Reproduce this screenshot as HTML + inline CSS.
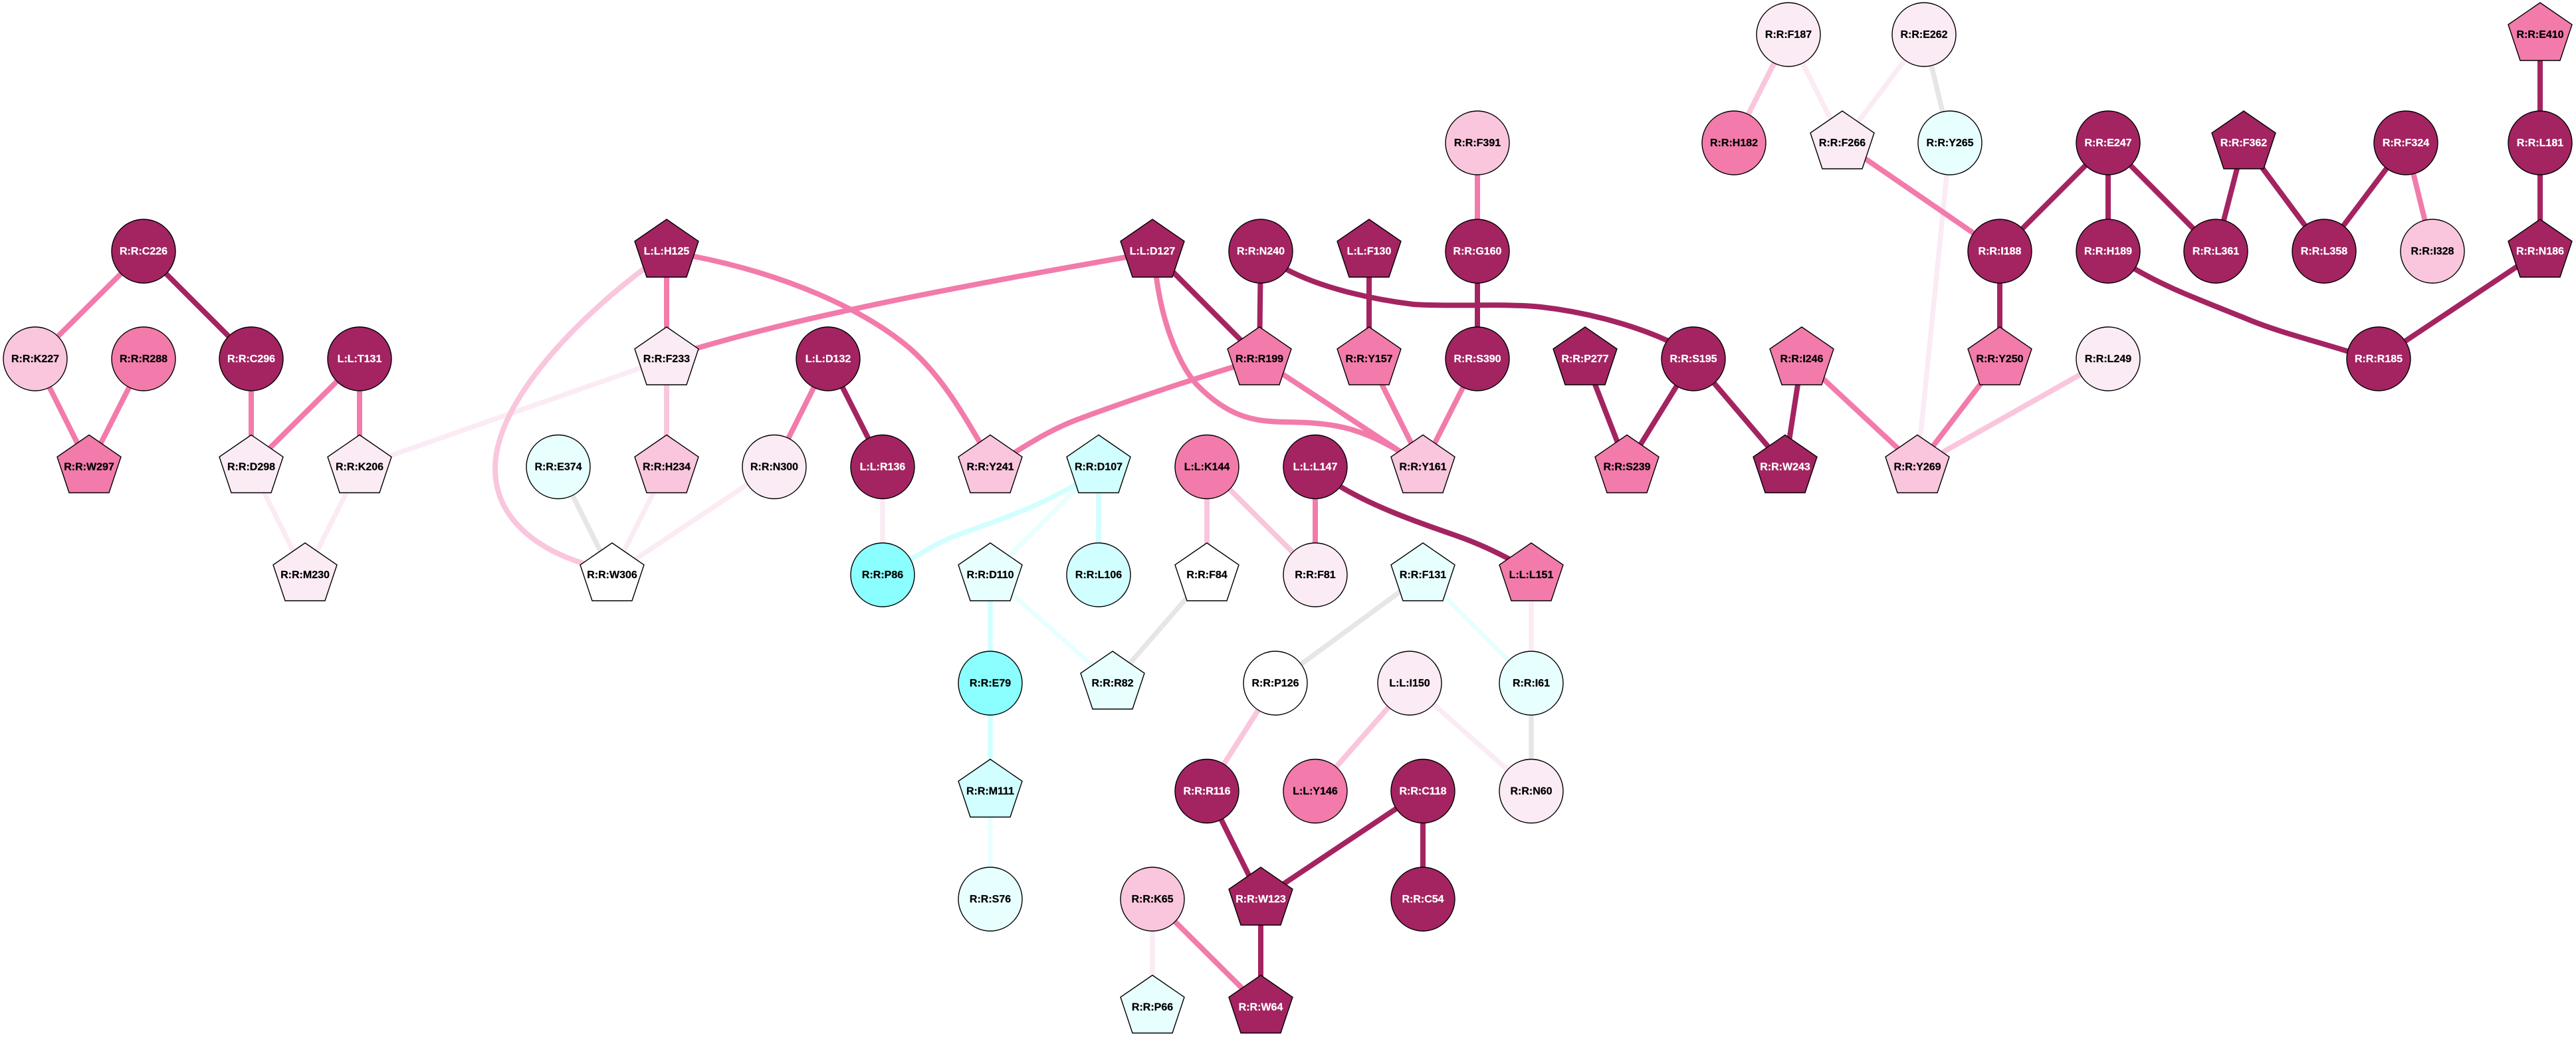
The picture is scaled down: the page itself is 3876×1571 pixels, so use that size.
<!DOCTYPE html>
<html><head><meta charset="utf-8"><style>
html,body{margin:0;padding:0;background:#fff}
svg{display:block}
.e path{fill:none;stroke-width:8}
.ed path{stroke:#a32461}
.ep path{stroke:#f27bab}
.el path{stroke:#f9c6dd}
.ef path{stroke:#fbebf4;stroke-width:7.5}
.eg path{stroke:#e6e6e6;stroke-width:7.5}
.ec path{stroke:#d1ffff;stroke-width:7.5}
.ex path{stroke:#e8ffff;stroke-width:7}
circle,polygon{stroke:#000;stroke-width:1.4}
text{font:bold 16px "Liberation Sans",Arial,sans-serif;text-anchor:middle;fill:#000;stroke:#000;stroke-width:.25}
.d circle,.d polygon{fill:#a32461}.d text{fill:#fff;stroke:#fff}
.p circle,.p polygon{fill:#f27bab}
.l circle,.l polygon{fill:#f9c6dd}
.f circle,.f polygon{fill:#fbebf4}
.x circle,.x polygon{fill:#e8ffff}
.c circle,.c polygon{fill:#d1ffff}
.a circle,.a polygon{fill:#8bffff}
.w circle,.w polygon{fill:#fff}
</style></head><body>
<svg xmlns="http://www.w3.org/2000/svg" width="3876" height="1571" viewBox="0 0 3876 1571">
<rect width="3876" height="1571" fill="#fff"/>
<g class="e ef">
<path d="M378 702L459 865"/><path d="M541 702L459 865"/><path d="M541 702L1003 540"/><path d="M1003 702L921 865"/><path d="M1165 702L921 865"/><path d="M1328 702L1328 865"/><path d="M2304 865L2304 1028"/><path d="M2121 1028L2304 1190"/><path d="M1734 1353L1734 1515"/><path d="M2934 215L2885 702"/><path d="M2691 52L2772 215"/><path d="M2895 52L2772 215"/>
</g>
<g class="e eg">
<path d="M840 702L921 865"/><path d="M1816 865L1674 1028"/><path d="M2141 865L1919 1028"/><path d="M2304 1028L2304 1190"/><path d="M2895 52L2934 215"/>
</g>
<g class="e ex">
<path d="M1653 702L1490 865"/><path d="M1490 865L1674 1028"/><path d="M1490 1190L1490 1353"/><path d="M2141 865L2304 1028"/>
</g>
<g class="e ec">
<path d="M1630 722C1570 760 1510 780 1438 806C1410 817 1390 830 1360 848"/><path d="M1653 702L1653 865"/><path d="M1490 865L1490 1028"/><path d="M1490 1028L1490 1190"/>
</g>
<g class="e el">
<path d="M975 400C880 470 745 600 745 705C745 775 800 825 885 850"/><path d="M1003 540L1003 702"/><path d="M1816 702L1816 865"/><path d="M1816 702L1979 865"/><path d="M1919 1028L1816 1190"/><path d="M2121 1028L1979 1190"/><path d="M3172 540L2885 702"/><path d="M2691 52L2609 215"/>
</g>
<g class="e ep">
<path d="M216 378L53 540"/><path d="M53 540L134 702"/><path d="M216 540L134 702"/><path d="M378 540L378 702"/><path d="M541 540L378 702"/><path d="M541 540L541 702"/><path d="M1003 378L1003 540"/>
<path d="M1040 385C1180 412 1300 465 1370 525C1420 570 1450 625 1478 672"/>
<path d="M1700 386C1550 412 1400 440 1285 465C1200 483 1120 503 1045 525"/>
<path d="M1246 540L1165 702"/><path d="M1979 702L1979 865"/>
<path d="M1739 410C1750 500 1780 555 1800 578C1850 630 1890 634 1933 635C2000 636 2040 640 2107 680"/>
<path d="M1870 548C1790 572 1700 602 1630 628C1590 642 1560 660 1520 685"/>
<path d="M1895 540L2141 702"/><path d="M2060 540L2141 702"/><path d="M2223 540L2141 702"/><path d="M2223 215L2223 378"/><path d="M1734 1353L1897 1515"/><path d="M2711 540L2885 702"/><path d="M3009 540L2885 702"/><path d="M2772 215L3009 378"/><path d="M3620 215L3660 378"/>
</g>
<g class="e ed">
<path d="M216 378L378 540"/><path d="M1246 540L1328 702"/><path d="M1734 378L1895 540"/><path d="M1897 378L1895 540"/><path d="M2060 378L2060 540"/>
<path d="M1935 405C1985 432 2060 450 2127 458C2190 462 2260 456 2319 462C2390 470 2460 490 2510 513L2548 540"/>
<path d="M2010 728C2060 760 2130 785 2191 806C2225 818 2250 830 2280 846"/>
<path d="M2223 378L2223 540"/><path d="M2385 540L2448 702"/><path d="M2548 540L2448 702"/><path d="M2548 540L2686 702"/><path d="M2711 540L2686 702"/>
<path d="M1816 1190L1897 1353"/><path d="M2141 1190L1897 1353"/><path d="M2141 1190L2141 1353"/><path d="M1897 1353L1897 1515"/>
<path d="M3172 215L3009 378"/><path d="M3172 215L3172 378"/><path d="M3172 215L3334 378"/><path d="M3376 215L3334 378"/><path d="M3376 215L3497 378"/><path d="M3620 215L3497 378"/><path d="M3009 378L3009 540"/>
<path d="M3200 397C3250 430 3320 455 3386 482C3430 500 3490 515 3540 531"/>
<path d="M3822 378L3579 540"/><path d="M3822 215L3822 378"/><path d="M3822 52L3822 215"/>
</g>
<g class="d" transform="translate(216 378)"><circle r="48"/><text y="5">R:R:C226</text></g>
<g class="l" transform="translate(53 540)"><circle r="48"/><text y="5">R:R:K227</text></g>
<g class="p" transform="translate(216 540)"><circle r="48"/><text y="5">R:R:R288</text></g>
<g class="d" transform="translate(378 540)"><circle r="48"/><text y="5">R:R:C296</text></g>
<g class="d" transform="translate(541 540)"><circle r="48"/><text y="5">L:L:T131</text></g>
<g class="p" transform="translate(134 702.500)"><polygon points="0,-48 48,-15 30,39 -30,39 -48,-15"/><text y="5">R:R:W297</text></g>
<g class="f" transform="translate(378 702.500)"><polygon points="0,-48 48,-15 30,39 -30,39 -48,-15"/><text y="5">R:R:D298</text></g>
<g class="f" transform="translate(541 702.500)"><polygon points="0,-48 48,-15 30,39 -30,39 -48,-15"/><text y="5">R:R:K206</text></g>
<g class="f" transform="translate(459 865)"><polygon points="0,-48 48,-15 30,39 -30,39 -48,-15"/><text y="5">R:R:M230</text></g>
<g class="w" transform="translate(921 865)"><polygon points="0,-48 48,-15 30,39 -30,39 -48,-15"/><text y="5">R:R:W306</text></g>
<g class="x" transform="translate(840 702.500)"><circle r="48"/><text y="5">R:R:E374</text></g>
<g class="d" transform="translate(1003 378)"><polygon points="0,-48 48,-15 30,39 -30,39 -48,-15"/><text y="5">L:L:H125</text></g>
<g class="f" transform="translate(1003 540)"><polygon points="0,-48 48,-15 30,39 -30,39 -48,-15"/><text y="5">R:R:F233</text></g>
<g class="l" transform="translate(1003 702.500)"><polygon points="0,-48 48,-15 30,39 -30,39 -48,-15"/><text y="5">R:R:H234</text></g>
<g class="d" transform="translate(1246 540)"><circle r="48"/><text y="5">L:L:D132</text></g>
<g class="f" transform="translate(1165 702.500)"><circle r="48"/><text y="5">R:R:N300</text></g>
<g class="d" transform="translate(1328 702.500)"><circle r="48"/><text y="5">L:L:R136</text></g>
<g class="l" transform="translate(1490 702.500)"><polygon points="0,-48 48,-15 30,39 -30,39 -48,-15"/><text y="5">R:R:Y241</text></g>
<g class="c" transform="translate(1653 702.500)"><polygon points="0,-48 48,-15 30,39 -30,39 -48,-15"/><text y="5">R:R:D107</text></g>
<g class="a" transform="translate(1328 865)"><circle r="48"/><text y="5">R:R:P86</text></g>
<g class="x" transform="translate(1490 865)"><polygon points="0,-48 48,-15 30,39 -30,39 -48,-15"/><text y="5">R:R:D110</text></g>
<g class="c" transform="translate(1653 865)"><circle r="48"/><text y="5">R:R:L106</text></g>
<g class="a" transform="translate(1490 1028)"><circle r="48"/><text y="5">R:R:E79</text></g>
<g class="x" transform="translate(1674 1028)"><polygon points="0,-48 48,-15 30,39 -30,39 -48,-15"/><text y="5">R:R:R82</text></g>
<g class="c" transform="translate(1490 1190.500)"><polygon points="0,-48 48,-15 30,39 -30,39 -48,-15"/><text y="5">R:R:M111</text></g>
<g class="x" transform="translate(1490 1353)"><circle r="48"/><text y="5">R:R:S76</text></g>
<g class="d" transform="translate(1734 378)"><polygon points="0,-48 48,-15 30,39 -30,39 -48,-15"/><text y="5">L:L:D127</text></g>
<g class="d" transform="translate(1897 378)"><circle r="48"/><text y="5">R:R:N240</text></g>
<g class="d" transform="translate(2060 378)"><polygon points="0,-48 48,-15 30,39 -30,39 -48,-15"/><text y="5">L:L:F130</text></g>
<g class="l" transform="translate(2223 215)"><circle r="48"/><text y="5">R:R:F391</text></g>
<g class="d" transform="translate(2223 378)"><circle r="48"/><text y="5">R:R:G160</text></g>
<g class="p" transform="translate(1895 540)"><polygon points="0,-48 48,-15 30,39 -30,39 -48,-15"/><text y="5">R:R:R199</text></g>
<g class="p" transform="translate(2060 540)"><polygon points="0,-48 48,-15 30,39 -30,39 -48,-15"/><text y="5">R:R:Y157</text></g>
<g class="d" transform="translate(2223 540)"><circle r="48"/><text y="5">R:R:S390</text></g>
<g class="d" transform="translate(2385 540)"><polygon points="0,-48 48,-15 30,39 -30,39 -48,-15"/><text y="5">R:R:P277</text></g>
<g class="d" transform="translate(2548 540)"><circle r="48"/><text y="5">R:R:S195</text></g>
<g class="p" transform="translate(2711 540)"><polygon points="0,-48 48,-15 30,39 -30,39 -48,-15"/><text y="5">R:R:I246</text></g>
<g class="p" transform="translate(1816 702.500)"><circle r="48"/><text y="5">L:L:K144</text></g>
<g class="d" transform="translate(1979 702.500)"><circle r="48"/><text y="5">L:L:L147</text></g>
<g class="l" transform="translate(2141 702.500)"><polygon points="0,-48 48,-15 30,39 -30,39 -48,-15"/><text y="5">R:R:Y161</text></g>
<g class="p" transform="translate(2448 702.500)"><polygon points="0,-48 48,-15 30,39 -30,39 -48,-15"/><text y="5">R:R:S239</text></g>
<g class="d" transform="translate(2686 702.500)"><polygon points="0,-48 48,-15 30,39 -30,39 -48,-15"/><text y="5">R:R:W243</text></g>
<g class="l" transform="translate(2885 702.500)"><polygon points="0,-48 48,-15 30,39 -30,39 -48,-15"/><text y="5">R:R:Y269</text></g>
<g class="w" transform="translate(1816 865)"><polygon points="0,-48 48,-15 30,39 -30,39 -48,-15"/><text y="5">R:R:F84</text></g>
<g class="f" transform="translate(1979 865)"><circle r="48"/><text y="5">R:R:F81</text></g>
<g class="x" transform="translate(2141 865)"><polygon points="0,-48 48,-15 30,39 -30,39 -48,-15"/><text y="5">R:R:F131</text></g>
<g class="p" transform="translate(2304 865)"><polygon points="0,-48 48,-15 30,39 -30,39 -48,-15"/><text y="5">L:L:L151</text></g>
<g class="w" transform="translate(1919 1028)"><circle r="48"/><text y="5">R:R:P126</text></g>
<g class="f" transform="translate(2121 1028)"><circle r="48"/><text y="5">L:L:I150</text></g>
<g class="x" transform="translate(2304 1028)"><circle r="48"/><text y="5">R:R:I61</text></g>
<g class="d" transform="translate(1816 1190.500)"><circle r="48"/><text y="5">R:R:R116</text></g>
<g class="p" transform="translate(1979 1190.500)"><circle r="48"/><text y="5">L:L:Y146</text></g>
<g class="d" transform="translate(2141 1190.500)"><circle r="48"/><text y="5">R:R:C118</text></g>
<g class="f" transform="translate(2304 1190.500)"><circle r="48"/><text y="5">R:R:N60</text></g>
<g class="l" transform="translate(1734 1353)"><circle r="48"/><text y="5">R:R:K65</text></g>
<g class="d" transform="translate(1897 1353)"><polygon points="0,-48 48,-15 30,39 -30,39 -48,-15"/><text y="5">R:R:W123</text></g>
<g class="d" transform="translate(2141 1353)"><circle r="48"/><text y="5">R:R:C54</text></g>
<g class="x" transform="translate(1734 1515.500)"><polygon points="0,-48 48,-15 30,39 -30,39 -48,-15"/><text y="5">R:R:P66</text></g>
<g class="d" transform="translate(1897 1515.500)"><polygon points="0,-48 48,-15 30,39 -30,39 -48,-15"/><text y="5">R:R:W64</text></g>
<g class="f" transform="translate(2691 52)"><circle r="48"/><text y="5">R:R:F187</text></g>
<g class="f" transform="translate(2895 52)"><circle r="48"/><text y="5">R:R:E262</text></g>
<g class="p" transform="translate(2609 215)"><circle r="48"/><text y="5">R:R:H182</text></g>
<g class="f" transform="translate(2772 215)"><polygon points="0,-48 48,-15 30,39 -30,39 -48,-15"/><text y="5">R:R:F266</text></g>
<g class="x" transform="translate(2934 215)"><circle r="48"/><text y="5">R:R:Y265</text></g>
<g class="d" transform="translate(3172 215)"><circle r="48"/><text y="5">R:R:E247</text></g>
<g class="d" transform="translate(3376 215)"><polygon points="0,-48 48,-15 30,39 -30,39 -48,-15"/><text y="5">R:R:F362</text></g>
<g class="d" transform="translate(3620 215)"><circle r="48"/><text y="5">R:R:F324</text></g>
<g class="p" transform="translate(3822 52)"><polygon points="0,-48 48,-15 30,39 -30,39 -48,-15"/><text y="5">R:R:E410</text></g>
<g class="d" transform="translate(3822 215)"><circle r="48"/><text y="5">R:R:L181</text></g>
<g class="d" transform="translate(3009 378)"><circle r="48"/><text y="5">R:R:I188</text></g>
<g class="d" transform="translate(3172 378)"><circle r="48"/><text y="5">R:R:H189</text></g>
<g class="d" transform="translate(3334 378)"><circle r="48"/><text y="5">R:R:L361</text></g>
<g class="d" transform="translate(3497 378)"><circle r="48"/><text y="5">R:R:L358</text></g>
<g class="l" transform="translate(3660 378)"><circle r="48"/><text y="5">R:R:I328</text></g>
<g class="d" transform="translate(3822 378)"><polygon points="0,-48 48,-15 30,39 -30,39 -48,-15"/><text y="5">R:R:N186</text></g>
<g class="p" transform="translate(3009 540)"><polygon points="0,-48 48,-15 30,39 -30,39 -48,-15"/><text y="5">R:R:Y250</text></g>
<g class="f" transform="translate(3172 540)"><circle r="48"/><text y="5">R:R:L249</text></g>
<g class="d" transform="translate(3579 540)"><circle r="48"/><text y="5">R:R:R185</text></g>
</svg>
</body></html>
